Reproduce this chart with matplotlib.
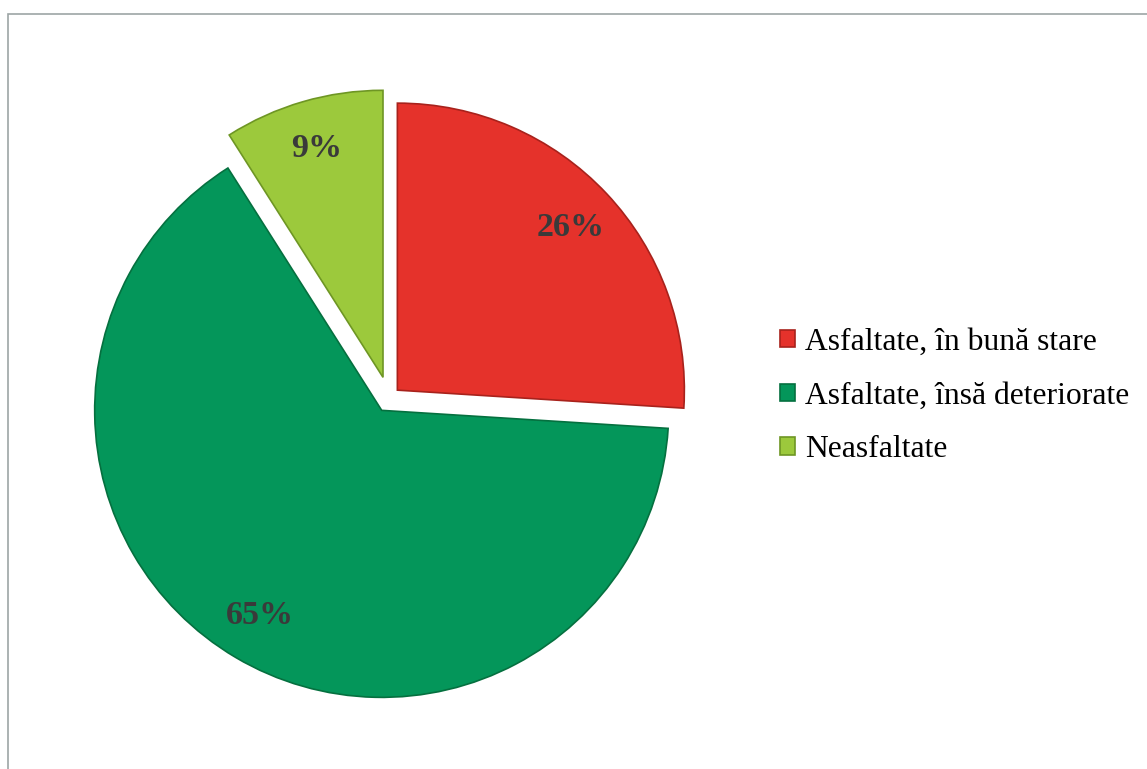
import matplotlib
matplotlib.use("Agg")
import matplotlib.pyplot as plt
from matplotlib.patches import Rectangle

# date: starea drumurilor
categorii = ["Asfaltate, în bună stare", "Asfaltate, însă deteriorate", "Neasfaltate"]
procente = [26, 65, 9]
culori = ["#E5322B", "#04965A", "#9CC93C"]
margini = ["#A8221C", "#05703F", "#6E9624"]

W, H = 1147, 769
R = 287                      # raza in pixeli
CENTRU = (389, H - 398)

fig = plt.figure(figsize=(W / 100, H / 100), dpi=100)
ax = fig.add_axes([0, 0, 1, 1])

# chenarul graficului (marginile din dreapta si de jos ies din imagine)
fig.patches.append(Rectangle((8 / W, -0.2), 1.2, 1.2 - 14 / H, transform=fig.transFigure,
                             fill=False, edgecolor="#9DA5A5", linewidth=1.2, clip_on=False))

wedges, _, autotexts = ax.pie(
    procente, colors=culori, startangle=90, counterclock=False,
    radius=R, center=CENTRU, frame=True,
    explode=[0.04 * R, 0.05 * R, 0.075 * R],
    autopct=lambda p: f"{p:.0f}%", pctdistance=0.83,
    wedgeprops=dict(linewidth=1.2),
    textprops=dict(family="Liberation Serif", fontsize=24.5, fontweight="bold", color="#3A3A3A"))
for w, ec in zip(wedges, margini):
    w.set_edgecolor(ec)
ax.set_xlim(0, W); ax.set_ylim(0, H)
ax.set_aspect("equal"); ax.axis("off")

ax.legend(wedges, categorii, loc="center left",
          bbox_to_anchor=(780 / W, 1 - 396 / H), bbox_transform=fig.transFigure,
          frameon=False, prop=dict(family="Liberation Serif", size=22.8),
          handlelength=0.47, handleheight=0.47, handletextpad=0.33,
          labelspacing=0.78, borderpad=0, borderaxespad=0)

fig.savefig("out.png", dpi=100, facecolor="white")
